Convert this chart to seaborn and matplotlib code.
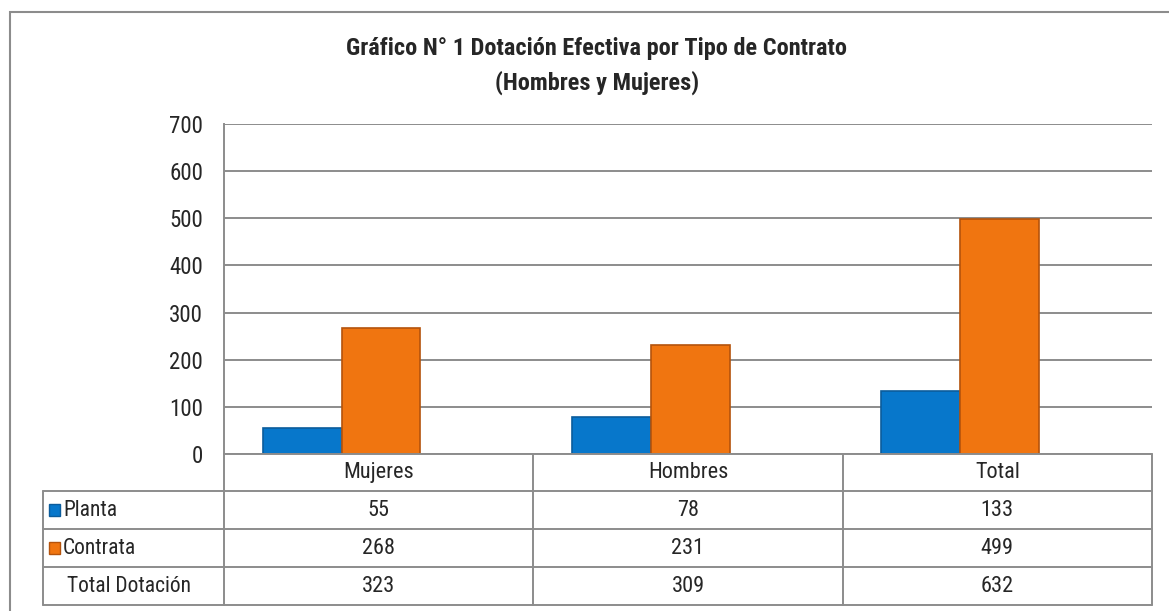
import pandas as pd
import matplotlib.pyplot as plt
import seaborn as sns
from matplotlib.patches import Rectangle
from matplotlib.transforms import blended_transform_factory

categorias = ["Mujeres", "Hombres", "Total"]
planta = [55, 78, 133]
contrata = [268, 231, 499]
total_dotacion = [323, 309, 632]
series = ["Planta", "Contrata"]
colores = ["#0777cb", "#f07510"]
bordes = ["#0b5c9c", "#b4530c"]

df = pd.DataFrame({
    "categoria": categorias * 2,
    "tipo": ["Planta"] * 3 + ["Contrata"] * 3,
    "valor": planta + contrata,
})

sns.set_style("white")
plt.rcParams["font.family"] = ["Roboto Condensed", "Archivo Narrow", "DejaVu Sans"]

fig = plt.figure(figsize=(11.69, 6.11), dpi=100)
ax = fig.add_axes([224 / 1169, 1 - 454 / 611, 928 / 1169, 330 / 611])

sns.barplot(
    data=df,
    x="categoria",
    y="valor",
    hue="tipo",
    hue_order=series,
    palette=colores,
    saturation=1,
    width=0.51,
    legend=False,
    ax=ax,
)

# bars sit a bit left of the category centre in the original
for patch_group, borde in zip(ax.containers, bordes):
    for p in patch_group:
        p.set_x(p.get_x() - 0.12)
        p.set_edgecolor(borde)
        p.set_linewidth(1.2)

ax.set_xlim(-0.5, 2.5)
ax.set_ylim(0, 700)
ax.set_yticks(range(0, 701, 100))
ax.yaxis.grid(True, color="#8c8c8c", linewidth=1.4)
ax.set_axisbelow(True)
ax.set_xticks([])
ax.set_xlabel("")
ax.set_ylabel("")
ax.tick_params(axis="y", labelsize=16.5, pad=15, length=0)
for s in ["top", "right", "bottom"]:
    ax.spines[s].set_visible(False)
ax.spines["left"].set_color("#8c8c8c")
ax.spines["left"].set_linewidth(1.4)

# data table under the chart
tr = blended_transform_factory(ax.transData, ax.transAxes)
ta = ax.transAxes
rows_y = [0, -37 / 330, -75 / 330, -113 / 330, -151 / 330]
x_left = (43 - 224) / 928
lc = "#8c8c8c"

ax.plot([0, 1], [0, 0], transform=ta, color=lc, lw=1.4, clip_on=False)
for y in rows_y[1:]:
    ax.plot([x_left, 1], [y, y], transform=ta, color=lc, lw=1.4, clip_on=False)
for xv in [-0.5, 0.5, 1.5, 2.5]:
    ax.plot([xv, xv], [0, rows_y[-1]], transform=tr, color=lc, lw=1.4, clip_on=False)
ax.plot([x_left, x_left], [rows_y[1], rows_y[-1]], transform=ta, color=lc, lw=1.4, clip_on=False)

mid = [(rows_y[i] + rows_y[i + 1]) / 2 for i in range(4)]
for i, cat in enumerate(categorias):
    ax.text(i, mid[0], cat, transform=tr, ha="center", va="center", fontsize=16)
    ax.text(i, mid[1], str(planta[i]), transform=tr, ha="center", va="center", fontsize=16)
    ax.text(i, mid[2], str(contrata[i]), transform=tr, ha="center", va="center", fontsize=16)
    ax.text(i, mid[3], str(total_dotacion[i]), transform=tr, ha="center", va="center", fontsize=16)

labels = ["Planta", "Contrata", "Total Dotación"]
for j, lab in enumerate(labels):
    ax.text((63 - 224) / 928 if j < 2 else (67 - 224) / 928, mid[j + 1], lab,
            transform=ta, ha="left", va="center", fontsize=15.5)
for j, (c, b) in enumerate(zip(colores, bordes)):
    ax.add_patch(Rectangle(((49 - 224) / 928, mid[j + 1] - 6 / 330), 11 / 928, 12 / 330,
                           transform=ta, facecolor=c, edgecolor=b, lw=1, clip_on=False))

fig.text(597 / 1169, 1 - 49 / 611,
         "Gráfico N° 1 Dotación Efectiva por Tipo de Contrato",
         ha="center", va="center", fontsize=17.5, fontweight="bold")
fig.text(597 / 1169, 1 - 83 / 611,
         "(Hombres y Mujeres)",
         ha="center", va="center", fontsize=17.5, fontweight="bold")

fig.patches.append(Rectangle((10 / 1169, -0.05), 1.1, 1 - 12 / 611 + 0.05,
                             transform=fig.transFigure, fill=False,
                             edgecolor="#8c8c8c", lw=1.5))

plt.savefig("out.png", dpi=100)
plt.close()
